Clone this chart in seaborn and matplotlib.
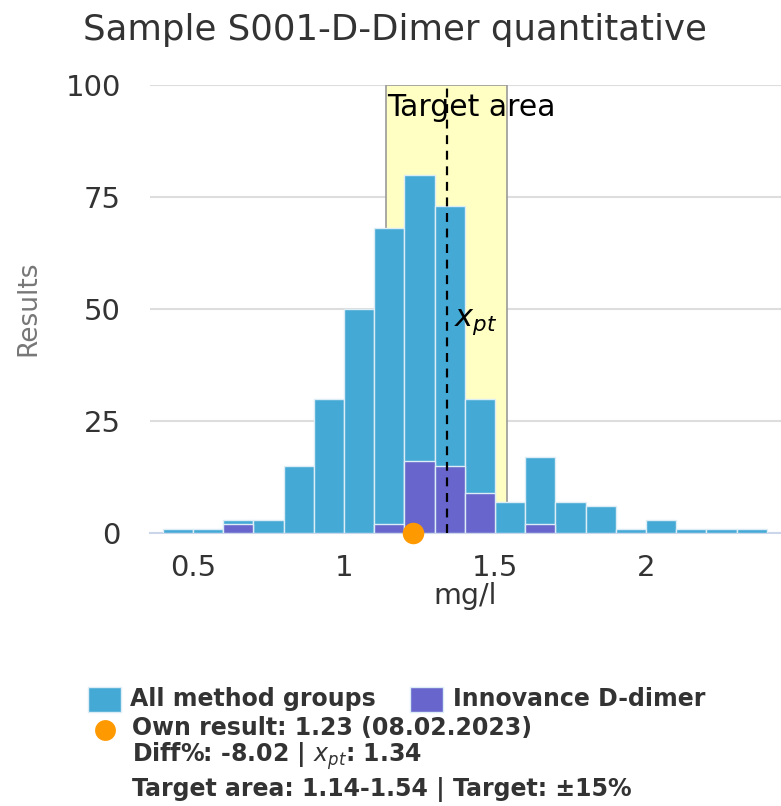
import numpy as np
import pandas as pd
import matplotlib
matplotlib.use("Agg")
import matplotlib.pyplot as plt
import seaborn as sns
from matplotlib.patches import Rectangle
from matplotlib.lines import Line2D

# ---- data ----
bin_edges = [0.4, 0.5, 0.6, 0.7, 0.8, 0.9, 1.0, 1.1, 1.2, 1.3, 1.4,
             1.5, 1.6, 1.7, 1.8, 1.9, 2.0, 2.1, 2.2, 2.3, 2.4]
all_counts = [1, 1, 3, 3, 15, 30, 50, 68, 80, 73, 30, 7, 17, 7, 6, 1, 3, 1, 1, 1]
innov_counts = [0, 0, 2, 0, 0, 0, 0, 2, 16, 15, 9, 0, 2, 0, 0, 0, 0, 0, 0, 0]
y_ticks = [0, 25, 50, 75, 100]
x_ticks = [0.5, 1, 1.5, 2]
x_tick_labels = ["0.5", "1", "1.5", "2"]
own_result = 1.23
x_pt = 1.34
target_low, target_high = 1.14, 1.54
title = "Sample S001-D-Dimer quantitative"

BLUE = "#45a9d5"
PURPLE = "#6866cc"
ORANGE = "#ff9900"
YELLOW = "#ffffc4"
TXT = "#333333"

centers = [(a + b) / 2 for a, b in zip(bin_edges[:-1], bin_edges[1:])]
df = pd.DataFrame({"x": centers, "all": all_counts, "innov": innov_counts})

sns.set_style("white")
plt.rcParams["font.family"] = ["DejaVu Sans"]
plt.rcParams["mathtext.fontset"] = "dejavusans"

fig = plt.figure(figsize=(7.81, 8.06), dpi=100)
ax = fig.add_axes([150 / 781, (806 - 533) / 806, (781 - 150) / 781, (533 - 85) / 806])

sns.histplot(data=df, x="x", weights="all", bins=bin_edges, ax=ax, color=BLUE,
             alpha=1, edgecolor="#dcedf6", linewidth=1, zorder=2)
n_all = len(ax.patches)
sns.histplot(data=df, x="x", weights="innov", bins=bin_edges, ax=ax, color=PURPLE,
             alpha=1, edgecolor="#dcedf6", linewidth=1, zorder=3)
for p in list(ax.patches[n_all:]):
    if p.get_height() == 0:
        p.remove()

ax.axvspan(target_low, target_high, facecolor=YELLOW, edgecolor="#999999",
           linewidth=1.2, zorder=1)
ax.axvline(x_pt, color="black", linestyle=(0, (4, 3)), linewidth=1.6, zorder=4)
ax.text(target_low + 0.003, 95, "Target area", ha="left", va="center", fontsize=21.5,
        color="black", zorder=5)
ax.text(1.366, 47, r"$x_{pt}$", ha="left", va="center", fontsize=22,
        color="black", zorder=5)
ax.scatter([own_result], [0], s=240, color=ORANGE, zorder=6, clip_on=False,
           linewidths=0)

ax.set_xlim(0.358, 2.447)
ax.set_ylim(0, 100)
ax.set_yticks(y_ticks)
ax.set_yticklabels([str(v) for v in y_ticks])
ax.set_xticks(x_ticks)
ax.set_xticklabels(x_tick_labels)
ax.yaxis.grid(True, color="#dddddd", linewidth=1.5, zorder=0)
ax.set_axisbelow(True)
for s in ["top", "left", "right"]:
    ax.spines[s].set_visible(False)
ax.spines["bottom"].set_color("#ccd6eb")
ax.spines["bottom"].set_linewidth(1.5)
ax.spines["bottom"].set_zorder(1.5)
ax.tick_params(axis="y", length=0, pad=21, labelsize=21, labelcolor=TXT)
ax.tick_params(axis="x", length=13.5, width=1.5, color="#ccd6eb", pad=1.5,
               labelsize=21, labelcolor=TXT)
ax.set_xlabel("mg/l", fontsize=20.5, color=TXT, labelpad=0)
ax.set_ylabel("")

fig.text(28 / 781, 1 - 308 / 806, "Results", rotation=90, ha="center", va="center",
         fontsize=19, color="#777777")
fig.text(394.5 / 781, 1 - 30 / 806, title, ha="center", va="center",
         fontsize=25.6, color=TXT)

# ---- legend ----
def fy(py):
    return 1 - py / 806

fig.patches.append(Rectangle((88 / 781, fy(712)), 33 / 781, 25 / 806,
                             transform=fig.transFigure, facecolor=BLUE,
                             edgecolor="#dcedf6", linewidth=1))
fig.patches.append(Rectangle((410 / 781, fy(712)), 33 / 781, 25 / 806,
                             transform=fig.transFigure, facecolor=PURPLE,
                             edgecolor="#dcedf6", linewidth=1))
fig.add_artist(Line2D([105.5 / 781], [fy(729.5)], marker="o", markersize=15,
                      color=ORANGE, markeredgewidth=0, transform=fig.transFigure))
lg = dict(fontsize=17, fontweight="bold", color=TXT, va="center", ha="left")
fig.text(130 / 781, fy(699), "All method groups", **lg)
fig.text(453 / 781, fy(699), "Innovance D-dimer", **lg)
fig.text(132 / 781, fy(728), "Own result: 1.23 (08.02.2023)", **lg)
fig.text(132 / 781, fy(756), r"Diff%: -8.02 | $x_{pt}$: 1.34", **lg)
fig.text(132 / 781, fy(789), "Target area: 1.14-1.54 | Target: ±15%", **lg)

fig.savefig("out.png", dpi=100)
